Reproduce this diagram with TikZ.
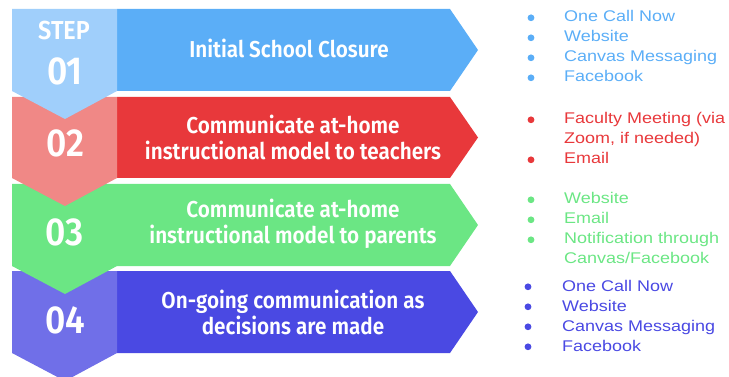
\documentclass[tikz,border=0pt]{standalone}
\usepackage{fontspec}
\setmainfont{Liberation Sans}
\newfontfamily\listfont{Liberation Sans}[FakeStretch=1.16]
\newfontfamily\headfont{Fira Sans SemiBold}[FakeStretch=0.9]
\definecolor{stepA}{HTML}{A0CFFB}\definecolor{barA}{HTML}{5BAEF7}
\definecolor{stepB}{HTML}{F08886}\definecolor{barB}{HTML}{E8383B}
\definecolor{stepC}{HTML}{6BE684}\definecolor{barC}{HTML}{6BE684}
\definecolor{stepD}{HTML}{706FE8}\definecolor{barD}{HTML}{4A49E3}
\tikzset{
  steptitle/.style={text=white, align=center, inner sep=0pt,
    font=\headfont\fontsize{23}{26}\selectfont},
  stepnum/.style={text=white, inner sep=0pt,
    font=\headfont\fontsize{39}{40}\selectfont},
  steplist/.style={anchor=base west, inner sep=0pt, align=left,
    font=\listfont\fontsize{15.5}{20}\selectfont},
}
% a coloured bar with an arrow point on the right, rows top..bottom
\newcommand{\stepbar}[3]{%
  \fill[#1] (117,#2) -- (450,#2) -- (478,{(#2+#3)/2}) -- (450,#3) -- (117,#3) -- cycle;}
% the left tab of a step, with a downward point
\newcommand{\steptab}[3]{%
  \fill[#1] (12,#2) -- (117,#2) -- (117,#3) -- (65,#3+28) -- (12,#3) -- cycle;}
\newcommand{\listdot}[3]{\fill[#1] (#2,#3-4.2) circle (3.4);}
\begin{document}
\begin{tikzpicture}[x=1pt,y=-1pt]
\useasboundingbox (0,0) rectangle (729,377);
% steps are painted from the last to the first, so each tab point lies on top
\stepbar{barD}{271}{353}\steptab{stepD}{271}{353}
\stepbar{barC}{184}{266}\steptab{stepC}{184}{266}
\stepbar{barB}{97}{178}\steptab{stepB}{97}{178}
\stepbar{barA}{9}{91}\steptab{stepA}{9}{91}

% step labels
\node[text=white, inner sep=0pt, font=\headfont\fontsize{26}{26}\selectfont, anchor=base] (stepword) at (64,40) {STEP};
\node[stepnum, anchor=base] (n1) at (65,85) {01};
\node[stepnum, anchor=base] (n2) at (65,157) {02};
\node[stepnum, anchor=base] (n3) at (65,246) {03};
\node[stepnum, anchor=base] (n4) at (65,333) {04};

% step titles
\node[steptitle, anchor=base] (t1) at (289,58) {Initial School Closure};
\node[steptitle] (t2) at (293,137.5) {Communicate at-home\\instructional model to teachers};
\node[steptitle] (t3) at (293,224) {Communicate at-home\\instructional model to parents};
\node[steptitle] (t4) at (293,312) {On-going communication as\\decisions are made};

% channel lists
\node[steplist, text=barA] (l1) at (564,22) {\begin{tabular}[t]{@{}l@{}}One Call Now\\Website\\Canvas Messaging\\Facebook\end{tabular}};
\foreach \y in {22,42,62,82} {\listdot{barA}{531}{\y}}

\node[steplist, text=barB] (l2) at (564,124) {\begin{tabular}[t]{@{}l@{}}Faculty Meeting (via\\Zoom, if needed)\\Email\end{tabular}};
\foreach \y in {124,164} {\listdot{barB}{531}{\y}}

\node[steplist, text=barC] (l3) at (564,204) {\begin{tabular}[t]{@{}l@{}}Website\\Email\\Notification through\\Canvas/Facebook\end{tabular}};
\foreach \y in {204,224,244} {\listdot{barC}{531}{\y}}

\node[steplist, text=barD] (l4) at (562,291) {\begin{tabular}[t]{@{}l@{}}One Call Now\\Website\\Canvas Messaging\\Facebook\end{tabular}};
\foreach \y in {291,311,331,351} {\listdot{barD}{528}{\y}}
\end{tikzpicture}
\end{document}
